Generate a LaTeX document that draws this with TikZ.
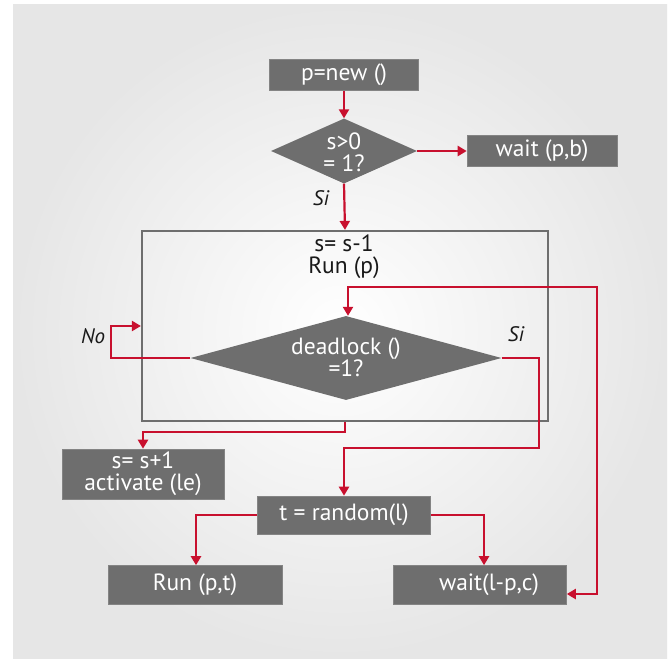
\documentclass[tikz,border=0pt]{standalone}
\usepackage{fontspec}
\setmainfont{PT Sans}
\usetikzlibrary{arrows.meta,shapes.geometric,calc}

\definecolor{boxgray}{HTML}{6E6E6E}
\definecolor{flowred}{HTML}{C8102E}
\definecolor{edgegray}{HTML}{E6E6E6}

\begin{document}
\begin{tikzpicture}[x=1pt,y=-1pt,
  txt/.style={font=\fontsize{23.5}{22}\selectfont},
  stepbox/.style={txt,draw=boxgray!85,line width=0.6pt,fill=boxgray,text=white,
    inner sep=0pt,align=center},
  decision/.style={diamond,fill=boxgray,inner sep=0pt,aspect=3},
  flow/.style={draw=flowred,line width=2.2pt,
    -{Triangle[length=9pt,width=10pt]}},
  answer/.style={font=\fontsize{21}{22}\selectfont\itshape,text=black!90}
]
% page and shaded backdrop
\useasboundingbox (0,0) rectangle (670,659);
\fill[white] (0,0) rectangle (670,659);
\shade[inner color=white,outer color=edgegray] (13,4) rectangle (667,658);

% process steps
\node[stepbox,minimum width=149pt,minimum height=31pt] (new) at (344,75) {p=new ()};
\node[decision,minimum width=146pt,minimum height=65pt,
  label={[txt,text=white,align=center,yshift=-1pt]center:s>0\\= 1?}] (d1) at (344,151) {};
\node[stepbox,minimum width=150pt,minimum height=31pt] (waitpb) at (542,151) {wait (p,b)};

% critical section frame
\node[draw=boxgray,line width=2.2pt,minimum width=406pt,minimum height=190pt,
  inner sep=0pt] (frame) at (345,326) {};
\node[txt,text=black!90,align=center] (head) at (344,257) {s= s-1\\Run (p)};
\node[decision,minimum width=311pt,minimum height=84pt,
  label={[txt,text=white,align=center,yshift=1pt]center:deadlock ()\\=1?}] (d2) at (346,358) {};

\node[stepbox,minimum width=162pt,minimum height=50pt] (act) at (143,474) {s= s+1\\activate (le)};
\node[stepbox,minimum width=173pt,minimum height=38pt] (rnd) at (344,515) {t = random(l)};
\node[stepbox,minimum width=174pt,minimum height=39pt] (runpt) at (195,585) {Run (p,t)};
\node[stepbox,minimum width=173pt,minimum height=39pt] (waitlpc) at (480,585) {\hspace*{18pt}wait(l-p,c)};

% answers
\node[answer] (si1) at (321,198) {Si};
\node[answer] (no) at (93,336) {No};
\node[answer] (si2) at (516,334) {Si};

% connectors
\coordinate (back) at (597,287);
\coordinate (yes2) at (539,448);

\draw[flow] (new) -- (d1);
\draw[flow] (d1.east) -- (waitpb.west);
\draw[flow] (d1.south) -- (frame.north);
\draw[flow] (d2.west) -- ++(-79,0) |- (frame.west);
\draw[flow] (d2.east) -| (yes2) -| (rnd.north);
\draw[flow] (frame.south) -- ++(0,10) -| (act.north);
\draw[flow] (rnd.west) -| ([xshift=1pt]runpt.north);
\draw[flow] (rnd.east) -| ([xshift=4pt]waitlpc.north);
\draw[flow,{Triangle[length=9pt,width=10pt]}-{Triangle[length=9pt,width=10pt]}]
  ([yshift=-9pt]waitlpc.east) -| (back) -| ([xshift=2pt]d2.north);
\end{tikzpicture}
\end{document}
